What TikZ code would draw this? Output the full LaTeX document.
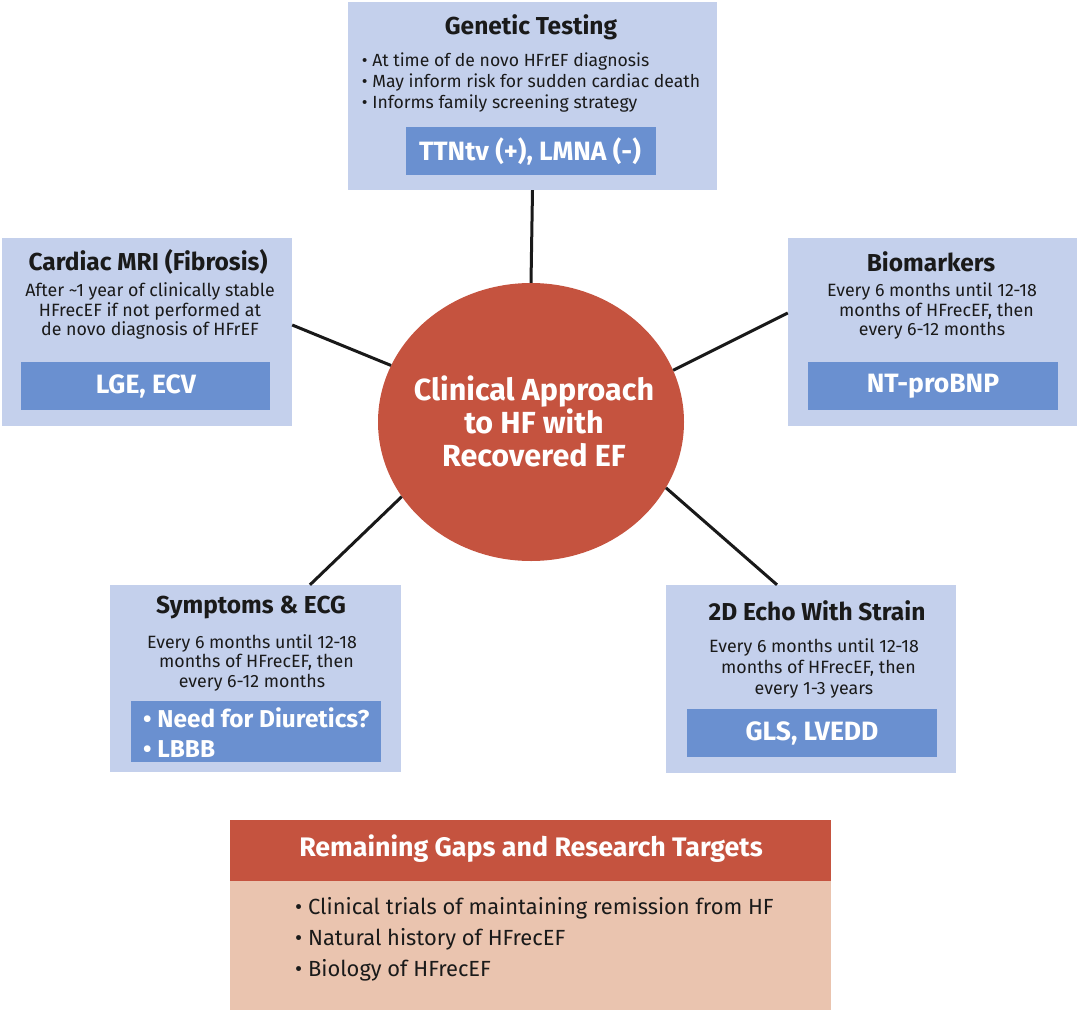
\documentclass[tikz,border=0pt]{standalone}
\usepackage{fontspec}
\setmainfont{Fira Sans}
\usetikzlibrary{shapes.geometric}
\definecolor{lightbox}{HTML}{C4D0EC}
\definecolor{innerbox}{HTML}{6A90D0}
\definecolor{hubred}{HTML}{C5533F}
\definecolor{pinkbox}{HTML}{EAC4AF}
\definecolor{inktext}{HTML}{1A1A1A}
\begin{document}
\begin{tikzpicture}[x=1pt,y=-1pt,
  outerbox/.style={fill=lightbox,draw=none,inner sep=0pt},
  bluebox/.style={fill=innerbox,draw=none,inner sep=0pt},
  titletext/.style={font=\fontsize{24.5}{28}\selectfont\bfseries,text=inktext,inner sep=0pt},
  bodytext/.style={font=\fontsize{17.8}{19.5}\selectfont,text=inktext,inner sep=0pt,align=center},
  whitetext/.style={font=\fontsize{26.5}{30}\selectfont\bfseries,text=white,inner sep=0pt},
  connector/.style={line width=3pt,draw=black!90}
]
\useasboundingbox (0,0) rectangle (1080,1012);

% outer boxes
\node[outerbox,minimum width=369pt,minimum height=188pt] (gen) at (532.5,96) {};
\node[outerbox,minimum width=290pt,minimum height=188pt] (mri) at (147,332) {};
\node[outerbox,minimum width=289pt,minimum height=188pt] (bio) at (932.5,332) {};
\node[outerbox,minimum width=291pt,minimum height=187pt] (sym) at (255.5,678.5) {};
\node[outerbox,minimum width=290pt,minimum height=188pt] (echo) at (811,679) {};

% hub
\node[ellipse,fill=hubred,draw=none,minimum width=306pt,minimum height=278pt,inner sep=0pt] (hub) at (531,422) {};
\node[font=\fontsize{30.5}{33}\selectfont\bfseries,text=white,align=center,inner sep=0pt] (hubtext) at (534,421) {Clinical Approach\\to HF with\\Recovered EF};

% connectors
\draw[connector] (gen.south) -- (hub.north);
\draw[connector] ([yshift=7pt]mri.east) -- (hub.158.4);
\draw[connector] ([yshift=19pt]bio.west) -- (hub.20.2);
\draw[connector] ([xshift=54.5pt]sym.north) -- (hub.210.7);
\draw[connector] ([xshift=-34pt]echo.north) -- (hub.334.1);

% Genetic testing
\node[titletext] (gentitle) at (531,27) {Genetic Testing};
\node[bodytext,align=left,font=\fontsize{17.6}{21}\selectfont] (genbody) at (531,83) {• At time of de novo HFrEF diagnosis\\• May inform risk for sudden cardiac death\\• Informs family screening strategy};
\node[bluebox,minimum width=250pt,minimum height=48pt] (geninner) at (531,151) {};
\node[whitetext] (geninnertext) at (530,151) {TTNtv (+), LMNA (-)};

% Cardiac MRI
\node[titletext] (mrititle) at (148,262) {Cardiac MRI (Fibrosis)};
\node[bodytext] (mribody) at (150,311) {After \textasciitilde1 year of clinically stable\\HFrecEF if not performed at\\de novo diagnosis of HFrEF};
\node[bluebox,minimum width=249pt,minimum height=48pt] (mriinner) at (145.5,386) {};
\node[whitetext] (mriinnertext) at (146,386) {LGE, ECV};

% Biomarkers
\node[titletext] (biotitle) at (931,262) {Biomarkers};
\node[bodytext] (biobody) at (932,311) {Every 6 months until 12-18\\\hspace*{9pt}months of HFrecEF, then\\every 6-12 months};
\node[bluebox,minimum width=250pt,minimum height=48pt] (bioinner) at (933,386) {};
\node[whitetext] (bioinnertext) at (933,386) {NT-proBNP};

% Symptoms & ECG
\node[titletext] (symtitle) at (251,608) {Symptoms \& ECG};
\node[bodytext] (symbody) at (252,662.5) {Every 6 months until 12-18\\\hspace*{9pt}months of HFrecEF, then\\every 6-12 months};
\node[bluebox,minimum width=250pt,minimum height=61pt] (syminner) at (256,731.5) {};
\node[whitetext,align=left,font=\fontsize{24.4}{30}\selectfont\bfseries,anchor=west] (syminnertext) at (143,732.5) {• Need for Diuretics?\\• LBBB};

% 2D Echo
\node[titletext] (echotitle) at (817,611) {2D Echo With Strain};
\node[bodytext,font=\fontsize{17.8}{21}\selectfont] (echobody) at (814,668) {Every 6 months until 12-18\\\hspace*{9pt}months of HFrecEF, then\\every 1-3 years};
\node[bluebox,minimum width=250pt,minimum height=48pt] (echoinner) at (812,733) {};
\node[whitetext] (echoinnertext) at (812,733) {GLS, LVEDD};

% Remaining gaps
\node[fill=hubred,draw=none,inner sep=0pt,minimum width=601pt,minimum height=61pt] (gaphead) at (530.5,850.5) {};
\node[fill=pinkbox,draw=none,inner sep=0pt,minimum width=601pt,minimum height=129pt] (gapbody) at (530.5,945.5) {};
\node[font=\fontsize{26.8}{30}\selectfont\bfseries,text=white,inner sep=0pt] (gapheadtext) at (531,849) {Remaining Gaps and Research Targets};
\node[font=\fontsize{21.9}{31}\selectfont,text=inktext,inner sep=0pt,align=left,anchor=west] (gapbodytext) at (295,939) {• Clinical trials of maintaining remission from HF\\• Natural history of HFrecEF\\• Biology of HFrecEF};
\end{tikzpicture}
\end{document}
